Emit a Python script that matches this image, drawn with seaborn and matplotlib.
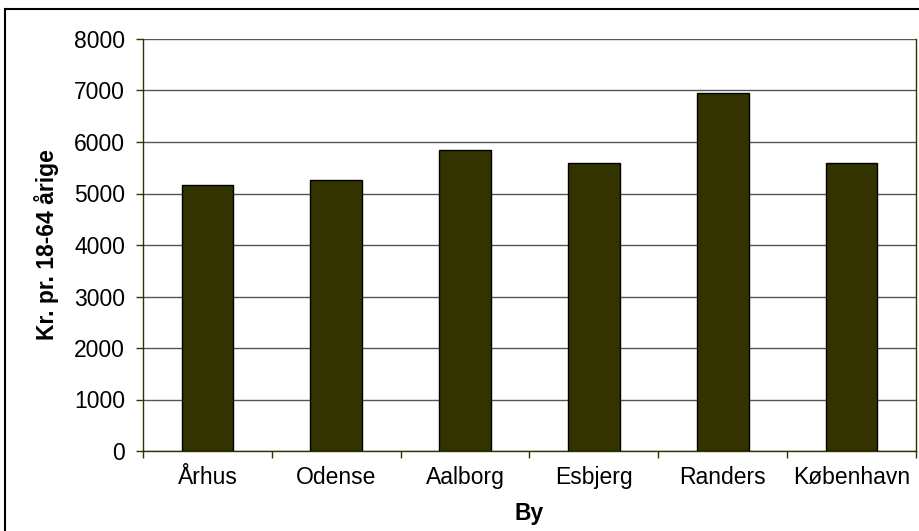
import matplotlib
matplotlib.use("Agg")
from matplotlib import pyplot as plt
from matplotlib.patches import Rectangle
import seaborn as sns
import pandas as pd

# data
byer = ["Århus", "Odense", "Aalborg", "Esbjerg", "Randers", "København"]
kr_pr_person = [5160, 5260, 5850, 5590, 6950, 5590]
y_ticks = [0, 1000, 2000, 3000, 4000, 5000, 6000, 7000, 8000]

df = pd.DataFrame({"By": byer, "Kr": kr_pr_person})

sns.set_style("white")
plt.rcParams["font.family"] = ["Liberation Sans", "DejaVu Sans"]
plt.rcParams["text.color"] = "black"
plt.rcParams["axes.labelcolor"] = "black"
plt.rcParams["xtick.color"] = "black"
plt.rcParams["ytick.color"] = "black"

fs = 16.5

fig = plt.figure(figsize=(9.19, 5.31), dpi=100)
ax = fig.add_axes([143 / 919, 1 - 451 / 531, 773 / 919, 412 / 531])

sns.barplot(data=df, x="By", y="Kr", color="#333300", width=0.4,
            edgecolor="black", linewidth=1, saturation=1, ax=ax, zorder=3)

ax.set_ylim(0, 8000)
ax.set_xlim(-0.5, len(byer) - 0.5)
ax.set_yticks(y_ticks)
ax.yaxis.grid(True, color="#555555", linewidth=1, zorder=0)
ax.tick_params(axis="y", length=5, width=1, color="#333300", labelsize=fs, pad=8, left=True)
ax.tick_params(axis="x", length=0, labelsize=fs, pad=11)
ax.set_xticks([i - 0.5 for i in range(len(byer) + 1)], minor=True)
ax.tick_params(axis="x", which="minor", length=5, width=1, color="#333300", bottom=True)

for s in ax.spines.values():
    s.set_color("#333300")
    s.set_linewidth(1)
ax.spines["top"].set_visible(False)

ax.set_xlabel("By", fontsize=fs, fontweight="bold", labelpad=9)
ax.set_ylabel("Kr. pr. 18-64 årige", fontsize=fs, fontweight="bold", labelpad=11)

# outer chart frame, clipped at the right and bottom like the reference
frame = Rectangle((5 / 919, -0.1), 1.2, 1 - 9 / 531 + 0.1, transform=fig.transFigure,
                  fill=False, edgecolor="black", linewidth=1.5, clip_on=False)
fig.patches.append(frame)

fig.savefig("out.png", dpi=100)
plt.close(fig)
